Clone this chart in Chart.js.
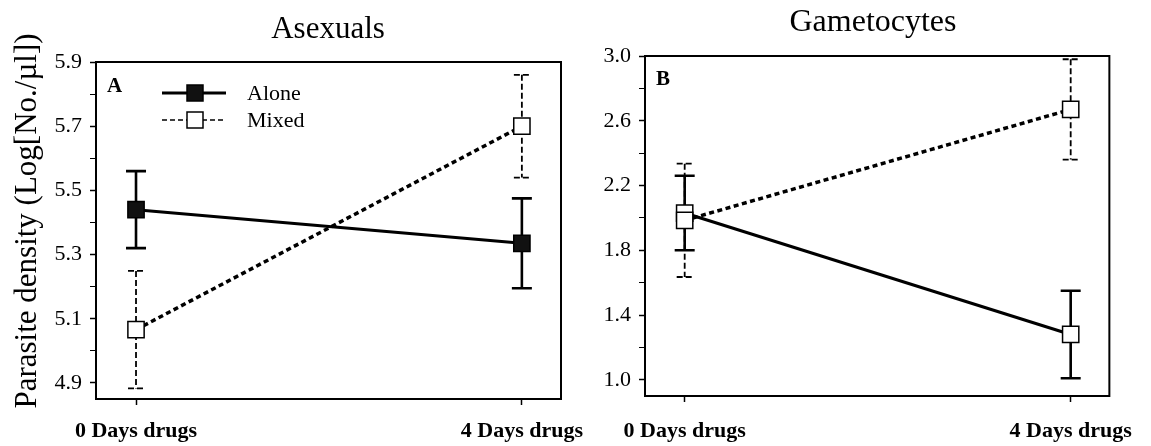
<!DOCTYPE html>
<html>
<head>
<meta charset="utf-8">
<script src="https://cdn.jsdelivr.net/npm/chart.js@4"></script>
<style>
  html, body { margin: 0; padding: 0; background: #fff; }
  #wrap { position: relative; width: 1151px; height: 446px; overflow: hidden; }
  canvas { position: absolute; left: 0; top: 0; }
</style>
</head>
<body>
<div id="wrap">
  <canvas id="cA" width="1151" height="446"></canvas>
  <canvas id="cB" width="1151" height="446"></canvas>
</div>
<script>
// ---------------- data ----------------
const categories = ['0 Days drugs', '4 Days drugs'];
const seriesNames = ['Alone', 'Mixed'];

const asexAlone = [5.44, 5.335];
const asexAloneErr = [0.12, 0.14];
const asexMixed = [5.066, 5.70];
const asexMixedErr = [0.183, 0.16];

const gamAlone = [2.03, 1.28];
const gamAloneErr = [0.23, 0.27];
const gamMixed = [1.985, 2.67];
const gamMixedErr = [0.35, 0.31];

const asexTicks = [4.9, 5.0, 5.1, 5.2, 5.3, 5.4, 5.5, 5.6, 5.7, 5.8, 5.9];
const asexTickLabels = ['4.9', '', '5.1', '', '5.3', '', '5.5', '', '5.7', '', '5.9'];
const gamTicks = [1.0, 1.2, 1.4, 1.6, 1.8, 2.0, 2.2, 2.4, 2.6, 2.8, 3.0];
const gamTickLabels = ['1.0', '', '1.4', '', '1.8', '', '2.2', '', '2.6', '', '3.0'];

const panelTitles = ['Asexuals', 'Gametocytes'];
const panelLetters = ['A', 'B'];
const yAxisTitle = 'Parasite density (Log[No./\u00B5l])';

// ---------------- helpers ----------------
const SERIF = '"Liberation Serif", "Times New Roman", serif';
Chart.defaults.font.family = SERIF;
Chart.defaults.color = '#000';

function pts(vals) { return vals.map((v, i) => ({ x: i, y: v })); }

function aloneDs(vals, errs, fill) {
  return {
    label: seriesNames[0], data: pts(vals), errors: errs,
    borderColor: '#000', borderWidth: 3, tension: 0,
    pointStyle: 'rect', pointRadius: 11.5, pointHoverRadius: 11.5,
    pointBackgroundColor: fill, pointBorderColor: '#000', pointBorderWidth: 1.5,
    errWidth: 2.6, errDash: [], capHalf: 10, order: 2
  };
}
function mixedDs(vals, errs) {
  return {
    label: seriesNames[1], data: pts(vals), errors: errs,
    borderColor: '#000', borderWidth: 3.5, borderDash: [5, 3.5], tension: 0,
    pointStyle: 'rect', pointRadius: 11.5, pointHoverRadius: 11.5,
    pointBackgroundColor: '#fff', pointBorderColor: '#000', pointBorderWidth: 1.5,
    errWidth: 1.8, errDash: [6, 3], capHalf: 8, order: 1
  };
}

const decor = {
  id: 'decor',
  beforeDatasetsDraw(chart) {
    const ctx = chart.ctx, xs = chart.scales.x, ys = chart.scales.y;
    chart.data.datasets.forEach(ds => {
      if (!ds.errors) return;
      ctx.save();
      ctx.strokeStyle = '#000';
      ctx.lineWidth = ds.errWidth;
      ctx.setLineDash(ds.errDash);
      ds.data.forEach((p, i) => {
        const x = xs.getPixelForValue(p.x);
        const yt = ys.getPixelForValue(p.y + ds.errors[i]);
        const yb = ys.getPixelForValue(p.y - ds.errors[i]);
        ctx.beginPath();
        ctx.moveTo(x, yt); ctx.lineTo(x, yb);
        ctx.moveTo(x - ds.capHalf, yt); ctx.lineTo(x + ds.capHalf, yt);
        ctx.moveTo(x - ds.capHalf, yb); ctx.lineTo(x + ds.capHalf, yb);
        ctx.stroke();
      });
      ctx.restore();
    });
  },
  afterDraw(chart) {
    const ctx = chart.ctx, a = chart.chartArea, o = chart.options.plugins.decor;
    ctx.save();
    // frame
    ctx.strokeStyle = '#000';
    ctx.lineWidth = 2;
    ctx.setLineDash([]);
    ctx.strokeRect(a.left, a.top, a.right - a.left, a.bottom - a.top);
    // title
    ctx.fillStyle = '#000';
    ctx.font = o.titleSize + 'px ' + SERIF;
    ctx.textAlign = 'center';
    ctx.textBaseline = 'alphabetic';
    ctx.fillText(o.title, o.titleX, o.titleBase);
    // panel letter
    ctx.font = 'bold 21px ' + SERIF;
    ctx.textAlign = 'left';
    ctx.fillText(o.letter, a.left + 11, o.letterBase);
    // y-axis title
    if (o.yTitle) {
      ctx.save();
      ctx.translate(28, 221);
      ctx.rotate(-Math.PI / 2);
      ctx.font = '31px ' + SERIF;
      ctx.textAlign = 'center';
      ctx.textBaseline = 'middle';
      ctx.fillText(o.yTitle, 0, 0);
      ctx.restore();
    }
    // legend
    if (o.legend) {
      const dss = chart.data.datasets;
      const rows = [{ ds: dss[0], y: 93 }, { ds: dss[1], y: 120 }];
      rows.forEach((r, k) => {
        const x0 = 162, x1 = 226, cx = 195;
        ctx.beginPath();
        ctx.strokeStyle = '#000';
        ctx.lineWidth = k === 0 ? 3 : 1.6;
        ctx.setLineDash(k === 0 ? [] : [5, 3]);
        ctx.moveTo(x0, r.y); ctx.lineTo(x1, r.y);
        ctx.stroke();
        ctx.setLineDash([]);
        ctx.fillStyle = r.ds.pointBackgroundColor;
        ctx.fillRect(cx - 8, r.y - 8, 16, 16);
        ctx.lineWidth = 1.5;
        ctx.strokeRect(cx - 8, r.y - 8, 16, 16);
        ctx.fillStyle = '#000';
        ctx.font = '22px ' + SERIF;
        ctx.textAlign = 'left';
        ctx.textBaseline = 'middle';
        ctx.fillText(r.ds.label, 247, r.y + 1);
      });
    }
    ctx.restore();
  }
};

function makeChart(id, cfg) {
  return new Chart(document.getElementById(id), {
    type: 'line',
    data: { datasets: cfg.datasets },
    options: {
      responsive: false, animation: false, devicePixelRatio: 1,
      layout: { padding: cfg.padding },
      plugins: { legend: { display: false }, tooltip: { enabled: false }, title: { display: false },
        decor: cfg.decor },
      scales: {
        x: {
          type: 'linear', position: 'bottom', min: cfg.xMin, max: cfg.xMax,
          afterBuildTicks: s => { s.ticks = categories.map((c, i) => ({ value: i })); },
          afterFit: s => { s.height = cfg.xHeight; },
          ticks: { autoSkip: false, maxRotation: 0, padding: cfg.xPad,
            font: { size: 22, weight: 'bold' }, color: '#000',
            callback: (v) => categories[v] },
          grid: { display: true, drawOnChartArea: false, drawTicks: true, tickLength: 6,
            tickColor: '#000', tickWidth: 1.5 },
          border: { display: false }
        },
        y: {
          type: 'linear', position: 'left', min: cfg.yMin, max: cfg.yMax,
          afterBuildTicks: s => { s.ticks = cfg.yTicks.map(v => ({ value: v })); },
          afterFit: s => { s.width = cfg.yWidth; },
          ticks: { autoSkip: false, padding: 8, font: { size: 22 }, color: '#000',
            callback: (v, i) => cfg.yLabels[i] },
          grid: { display: true, drawOnChartArea: false, drawTicks: true, tickLength: 6,
            tickColor: '#000', tickWidth: (c) => (cfg.yLabels[c.index] ? 1.5 : 1) },
          border: { display: false }
        }
      }
    },
    plugins: [decor]
  });
}

makeChart('cA', {
  datasets: [aloneDs(asexAlone, asexAloneErr, '#111'), mixedDs(asexMixed, asexMixedErr)],
  padding: { left: 0, top: 62, right: 1151 - 561, bottom: 0 },
  xMin: -0.1037, xMax: 1.1014, yMin: 4.85, yMax: 5.9, yWidth: 96,
  xHeight: 47, xPad: 13,
  yTicks: asexTicks, yLabels: asexTickLabels,
  decor: { title: panelTitles[0], titleSize: 31, titleX: 328, titleBase: 38,
    letter: panelLetters[0], letterBase: 92, yTitle: yAxisTitle, legend: true }
});

makeChart('cB', {
  datasets: [aloneDs(gamAlone, gamAloneErr, '#fff'), mixedDs(gamMixed, gamMixedErr)],
  padding: { left: 645 - 66, top: 56, right: 1151 - 1112.7, bottom: 0 },
  xMin: -0.1028, xMax: 1.1002, yMin: 0.9, yMax: 3.0, yWidth: 66,
  xHeight: 50, xPad: 16,
  yTicks: gamTicks, yLabels: gamTickLabels,
  decor: { title: panelTitles[1], titleSize: 32, titleX: 873, titleBase: 31,
    letter: panelLetters[1], letterBase: 85, yTitle: null, legend: false }
});
</script>
</body>
</html>
